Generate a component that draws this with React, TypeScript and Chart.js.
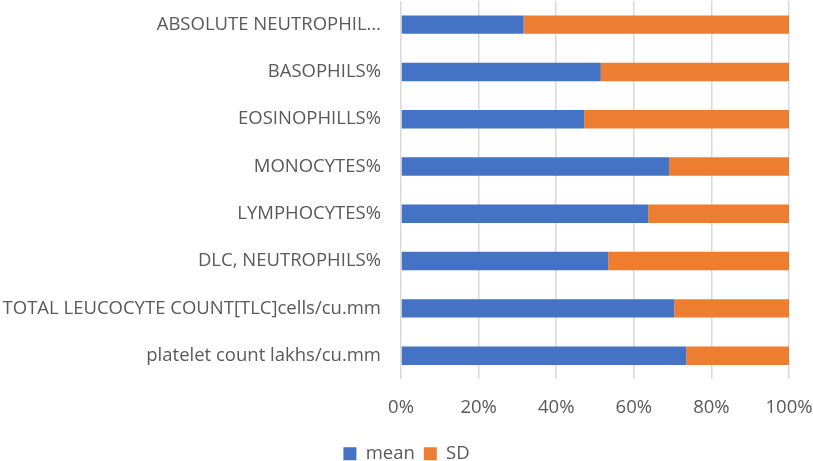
import { useEffect, useRef } from 'react';
import { Chart, registerables } from 'chart.js';

Chart.register(...registerables);

// categories, top to bottom
const categories = [
  'ABSOLUTE NEUTROPHIL…',
  'BASOPHILS%',
  'EOSINOPHILLS%',
  'MONOCYTES%',
  'LYMPHOCYTES%',
  'DLC, NEUTROPHILS%',
  'TOTAL LEUCOCYTE COUNT[TLC]cells/cu.mm',
  'platelet count lakhs/cu.mm',
];

// share of each bar (percent)
const meanShare = [31.6, 51.5, 47.2, 69.1, 63.7, 53.4, 70.4, 73.5];
const sdShare = [68.4, 48.5, 52.8, 30.9, 36.3, 46.6, 29.6, 26.5];

const xTicks = ['0%', '20%', '40%', '60%', '80%', '100%'];

const FONT = '"Open Sans", "Liberation Sans", sans-serif';
const TEXT = '#595959';

export default function App() {
  const canvasRef = useRef<HTMLCanvasElement>(null);
  const chartRef = useRef<Chart | null>(null);

  useEffect(() => {
    document.body.style.margin = '0';
    if (!canvasRef.current) return;
    const ctx = canvasRef.current.getContext('2d');
    if (!ctx) return;

    if (chartRef.current) chartRef.current.destroy();

    chartRef.current = new Chart(ctx, {
      type: 'bar',
      data: {
        labels: categories,
        datasets: [
          { label: 'mean', data: meanShare, backgroundColor: '#4472C4' },
          { label: 'SD', data: sdShare, backgroundColor: '#ED7D31' },
        ],
      },
      options: {
        indexAxis: 'y',
        responsive: true,
        maintainAspectRatio: false,
        animation: false,
        categoryPercentage: 1,
        barPercentage: 0.39,
        layout: { padding: { left: 0, right: 0, top: 1, bottom: -12 } },
        plugins: {
          tooltip: { enabled: false },
          legend: {
            position: 'bottom',
            labels: {
              boxWidth: 13,
              boxHeight: 13,
              padding: 9,
              color: TEXT,
              font: { family: FONT, size: 18.5 },
            },
          },
        },
        scales: {
          x: {
            stacked: true,
            min: 0,
            max: 100,
            border: { display: false },
            grid: { color: '#D9D9D9', lineWidth: 1.5, drawTicks: false },
            afterFit: (scale) => {
              scale.paddingLeft = 0;
              scale.paddingRight = 24;
            },
            ticks: {
              stepSize: 20,
              padding: 17,
              color: TEXT,
              font: { family: FONT, size: 18.5 },
              callback: (_v, i) => xTicks[i],
            },
          },
          y: {
            stacked: true,
            border: { display: false },
            grid: { display: false, drawTicks: false },
            afterFit: (scale) => {
              scale.width = 401;
              scale.paddingTop = 0;
              scale.paddingBottom = 0;
            },
            ticks: {
              padding: 20,
              color: TEXT,
              font: { family: FONT, size: 18.5 },
            },
          },
        },
      },
    });

    return () => {
      if (chartRef.current) {
        chartRef.current.destroy();
        chartRef.current = null;
      }
    };
  }, []);

  return (
    <div style={{ width: 813, height: 461, position: 'relative', background: '#fff' }}>
      <canvas ref={canvasRef} />
    </div>
  );
}
